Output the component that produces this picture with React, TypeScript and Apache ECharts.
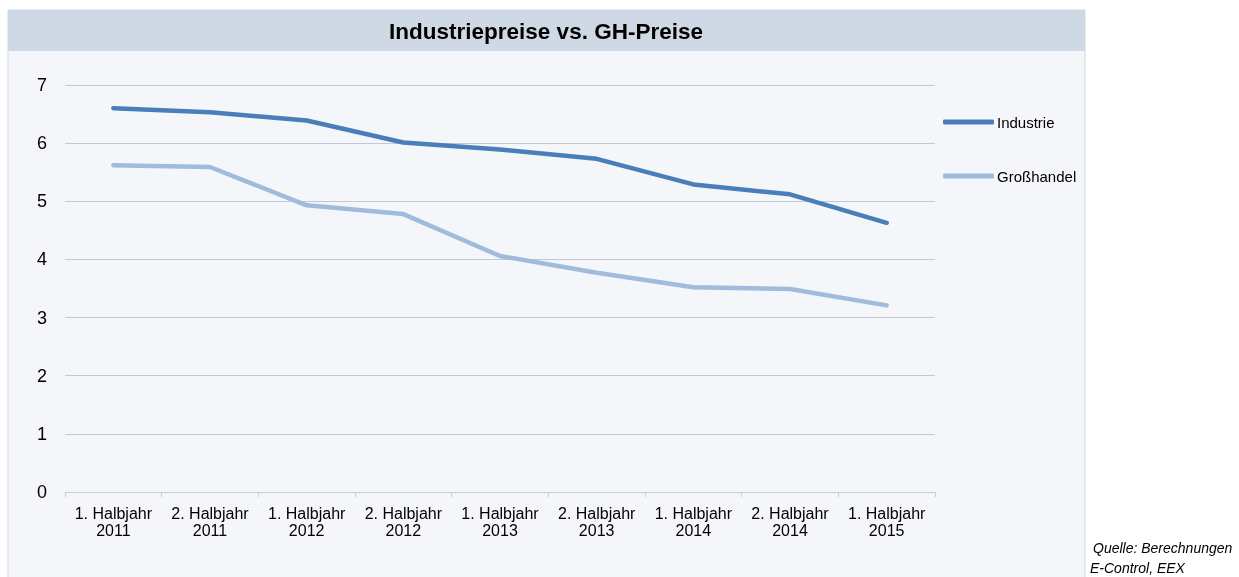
import React, { useEffect, useRef } from "react";
import * as echarts from "echarts";

const categories = [
  "1. Halbjahr\n2011",
  "2. Halbjahr\n2011",
  "1. Halbjahr\n2012",
  "2. Halbjahr\n2012",
  "1. Halbjahr\n2013",
  "2. Halbjahr\n2013",
  "1. Halbjahr\n2014",
  "2. Halbjahr\n2014",
  "1. Halbjahr\n2015",
];
const industrie = [6.6, 6.53, 6.39, 6.01, 5.89, 5.73, 5.29, 5.12, 4.63];
const grosshandel = [5.62, 5.59, 4.93, 4.78, 4.06, 3.77, 3.52, 3.49, 3.21];
const titleText = "Industriepreise vs. GH-Preise";
const sourceLine1 = "Quelle: Berechnungen";
const sourceLine2 = "E-Control, EEX";

export default function App() {
  const ref = useRef<HTMLDivElement>(null);
  useEffect(() => {
    if (!ref.current) return;
    const chart = echarts.init(ref.current, null, { renderer: "svg" });
    const font = "Liberation Sans, Arial, sans-serif";
    chart.setOption({
      animation: false,
      textStyle: { fontFamily: font },
      graphic: [
        { type: "rect", z: -10, shape: { x: 8, y: 10, width: 1077, height: 600 }, style: { fill: "#f4f6fa", stroke: "#d2d9e4", lineWidth: 1 } },
        { type: "rect", z: -9, shape: { x: 8, y: 10, width: 1077, height: 41 }, style: { fill: "#cfd9e5" } },
        { type: "text", z: 5, x: 546, y: 31, style: { text: titleText, font: "bold 22.5px Liberation Sans, Arial, sans-serif", fill: "#000", align: "center", verticalAlign: "middle" } },
        { type: "text", z: 5, x: 1093, y: 548, style: { text: sourceLine1, font: "italic 14px Liberation Sans, Arial, sans-serif", fill: "#000", align: "left", verticalAlign: "middle" } },
        { type: "text", z: 5, x: 1090, y: 568, style: { text: sourceLine2, font: "italic 14px Liberation Sans, Arial, sans-serif", fill: "#000", align: "left", verticalAlign: "middle" } },
      ],
      legend: {
        orient: "vertical",
        left: 938,
        top: 109.5,
        itemWidth: 51,
        itemHeight: 5,
        itemGap: 39,
        icon: "roundRect",
        textStyle: { fontSize: 15, color: "#000", padding: [0, 0, 0, -2], fontFamily: font },
        data: ["Industrie", "Großhandel"],
      },
      grid: { left: 65, right: 304, top: 85, bottom: 85, containLabel: false },
      xAxis: {
        type: "category",
        data: categories,
        boundaryGap: true,
        axisLine: { lineStyle: { color: "#c3cfdf", width: 1 } },
        axisTick: { show: true, length: 5, lineStyle: { color: "#c3cfdf" } },
        axisLabel: { color: "#000", fontSize: 16, lineHeight: 17, margin: 13, interval: 0, fontFamily: font },
      },
      yAxis: {
        type: "value",
        min: 0,
        max: 7,
        interval: 1,
        axisLine: { show: false },
        axisTick: { show: false },
        axisLabel: { color: "#000", fontSize: 18, margin: 18, fontFamily: font },
        splitLine: { lineStyle: { color: "#c2c8d4", width: 1 } },
      },
      series: [
        {
          name: "Industrie",
          type: "line",
          data: industrie,
          symbol: "none",
          itemStyle: { color: "#4a7ebb" },
          lineStyle: { color: "#4a7ebb", width: 4.5, cap: "round", join: "round" },
        },
        {
          name: "Großhandel",
          type: "line",
          data: grosshandel,
          symbol: "none",
          itemStyle: { color: "#a0bbdb" },
          lineStyle: { color: "#a0bbdb", width: 4.5, cap: "round", join: "round" },
        },
      ],
    });
    return () => chart.dispose();
  }, []);
  return <div ref={ref} style={{ position: "fixed", left: 0, top: 0, width: 1239, height: 577 }} />;
}
